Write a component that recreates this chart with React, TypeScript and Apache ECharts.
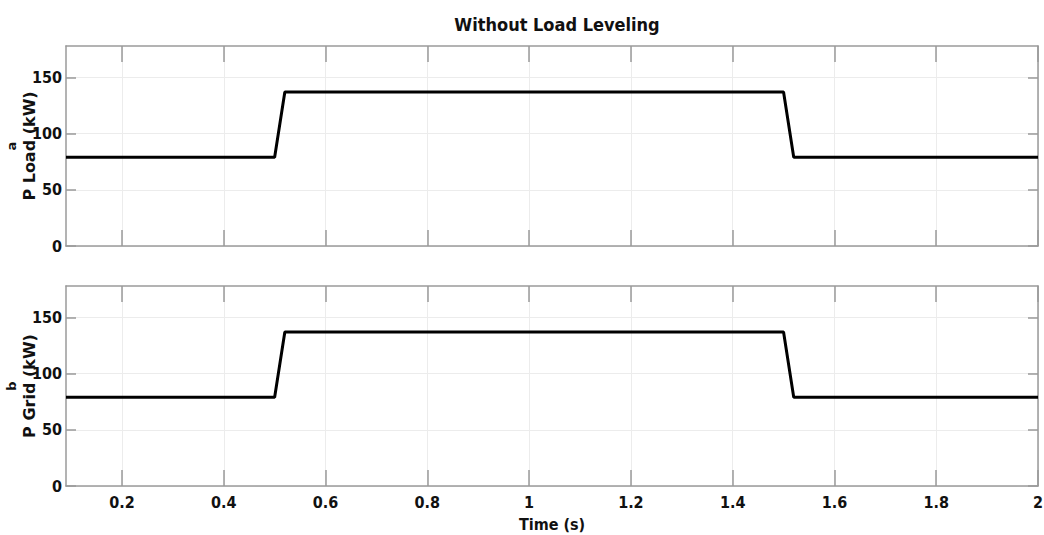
import React, { useEffect, useRef } from "react";
import * as echarts from "echarts";

const TIME_S = [0.09, 0.5, 0.52, 1.5, 1.52, 2.0];
const P_LOAD_KW = [79, 79, 137, 137, 79, 79];
const P_GRID_KW = [79, 79, 137, 137, 79, 79];
const X_TICKS = [0.2, 0.4, 0.6, 0.8, 1.0, 1.2, 1.4, 1.6, 1.8, 2.0];
const Y_TICKS = [0, 50, 100, 150];
const X_RANGE = [0.09, 2.0];
const Y_RANGE = [0, 178];
const PANEL_LETTERS = ["a", "b"];
const PANEL_NAMES = ["P Load (kW)", "P Grid (kW)"];

const NARROW = "'Liberation Sans Narrow', 'DejaVu Sans Condensed', sans-serif";
const WIDE = "'DejaVu Sans', Verdana, sans-serif";
const AX = "#9a9a9a";

function xAxes(gridIndex: number, showLabels: boolean) {
  const base = {
    type: "value" as const,
    gridIndex,
    min: X_RANGE[0],
    max: X_RANGE[1],
    axisLine: { show: true, onZero: false, lineStyle: { color: AX, width: 1.5 } },
    axisTick: { show: true, inside: true, length: 16, customValues: X_TICKS, lineStyle: { color: AX, width: 1.5 } },
  };
  return [
    {
      ...base,
      position: "bottom",
      axisLabel: {
        show: showLabels,
        customValues: X_TICKS,
        formatter: (v: number) => String(v),
        color: "#111",
        fontFamily: NARROW,
        fontWeight: "bold",
        fontSize: 16,
        margin: 8,
      },
      splitLine: { show: true, lineStyle: { color: "#ececec", width: 1 } },
      name: showLabels ? "Time (s)" : "",
      nameLocation: "middle",
      nameGap: 30,
      nameTextStyle: { color: "#111", fontFamily: NARROW, fontWeight: "bold", fontSize: 16 },
    },
    {
      ...base,
      position: "top",
      axisLabel: { show: false },
      splitLine: { show: false },
    },
  ];
}

function yAxes(gridIndex: number) {
  const base = {
    type: "value" as const,
    gridIndex,
    min: Y_RANGE[0],
    max: Y_RANGE[1],
    axisLine: { show: true, onZero: false, lineStyle: { color: AX, width: 1.5 } },
    axisTick: { show: true, inside: true, length: 10, customValues: Y_TICKS, lineStyle: { color: AX, width: 1.5 } },
  };
  return [
    {
      ...base,
      position: "left",
      axisLabel: {
        show: true,
        customValues: Y_TICKS,
        color: "#111",
        fontFamily: NARROW,
        fontWeight: "bold",
        fontSize: 16,
        margin: 4,
      },
      splitLine: { show: true, lineStyle: { color: "#ececec", width: 1 } },
    },
    {
      ...base,
      position: "right",
      axisLabel: { show: false },
      splitLine: { show: false },
    },
  ];
}

export default function App() {
  const ref = useRef<HTMLDivElement>(null);
  useEffect(() => {
    document.body.style.margin = "0";
    if (!ref.current) return;
    const chart = echarts.init(ref.current, null, { renderer: "svg" });
    const toPairs = (ys: number[]) => TIME_S.map((t, i) => [t, ys[i]]);
    const panelCenters = [146, 386];
    const graphics: any[] = [];
    panelCenters.forEach((cy, i) => {
      graphics.push({
        type: "text",
        x: 11,
        y: cy,
        rotation: Math.PI / 2,
        style: {
          text: PANEL_LETTERS[i],
          fill: "#111",
          fontFamily: WIDE,
          fontWeight: "bold",
          fontSize: 13,
          textAlign: "center",
          textVerticalAlign: "middle",
        },
      });
      graphics.push({
        type: "text",
        x: 29,
        y: cy,
        rotation: Math.PI / 2,
        style: {
          text: PANEL_NAMES[i],
          fill: "#111",
          fontFamily: WIDE,
          fontWeight: "bold",
          fontSize: 16,
          textAlign: "center",
          textVerticalAlign: "middle",
        },
      });
    });
    chart.setOption({
      animation: false,
      backgroundColor: "#fff",
      title: {
        text: "Without Load Leveling",
        left: 552,
        textAlign: "center",
        top: 10,
        textStyle: { color: "#111", fontFamily: NARROW, fontWeight: "bold", fontSize: 18 },
      },
      grid: [
        { left: 66, right: 6, top: 46, height: 200, containLabel: false, outerBoundsMode: "none" },
        { left: 66, right: 6, top: 286, height: 200, containLabel: false, outerBoundsMode: "none" },
      ],
      xAxis: [...xAxes(0, false), ...xAxes(1, true)],
      yAxis: [...yAxes(0), ...yAxes(1)],
      graphic: graphics,
      series: [
        {
          type: "line",
          xAxisIndex: 0,
          yAxisIndex: 0,
          data: toPairs(P_LOAD_KW),
          showSymbol: false,
          lineStyle: { color: "#000", width: 3 },
          z: 5,
        },
        {
          type: "line",
          xAxisIndex: 2,
          yAxisIndex: 2,
          data: toPairs(P_GRID_KW),
          showSymbol: false,
          lineStyle: { color: "#000", width: 3 },
          z: 5,
        },
      ],
    });
    return () => chart.dispose();
  }, []);
  return <div ref={ref} style={{ width: 1044, height: 535 }} />;
}
